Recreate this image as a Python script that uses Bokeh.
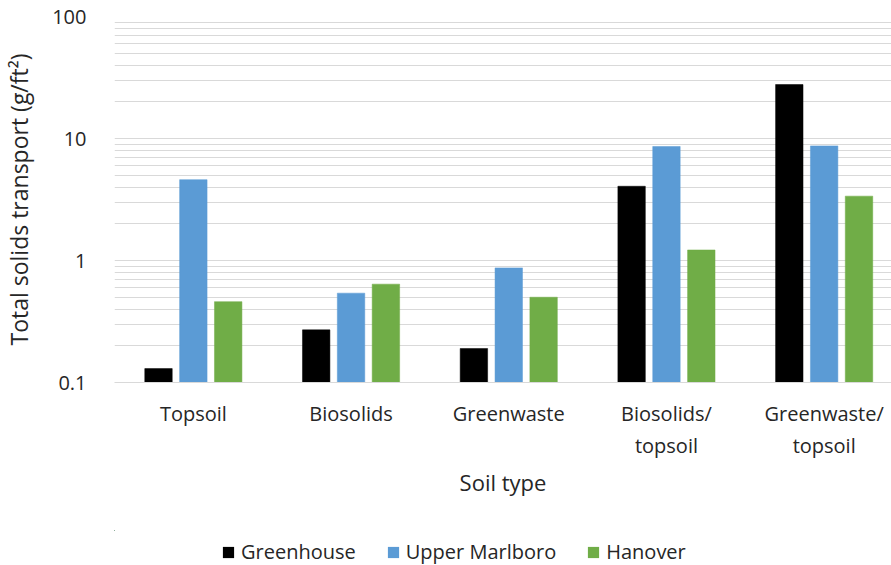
from bokeh.plotting import figure
from bokeh.layouts import column
from bokeh.models import (ColumnDataSource, Range1d, FixedTicker, Legend, LegendItem)
from bokeh.transform import dodge
from bokeh.embed import file_html
from bokeh.resources import INLINE

categories = ["Topsoil", "Biosolids", "Greenwaste", "Biosolids/\ntopsoil", "Greenwaste/\ntopsoil"]
greenhouse = [0.13, 0.27, 0.19, 4.06, 27.7]
upper_marlboro = [4.6, 0.54, 0.87, 8.6, 8.7]
hanover = [0.46, 0.64, 0.50, 1.22, 3.37]
series_names = ["Greenhouse", "Upper Marlboro", "Hanover"]
colors = ["#000000", "#5B9BD5", "#70AD47"]
y_ticks = [0.1, 1, 10, 100]
y_tick_labels = ["0.1", "1", "10", "100"]

FONT = "Open Sans"
TXT = "#262626"

src = ColumnDataSource(dict(
    x=list(range(len(categories))),
    greenhouse=greenhouse,
    upper=upper_marlboro,
    hanover=hanover,
))

p = figure(width=891, height=530, y_axis_type="log",
           x_range=Range1d(-0.5, 4.427), y_range=Range1d(0.1, 100),
           output_backend="svg", toolbar_location=None,
           min_border_left=111, min_border_right=0,
           min_border_top=16, min_border_bottom=148)
p.outline_line_color = None
p.background_fill_color = "white"
p.border_fill_color = "white"

bw = 0.174
off = 0.221
fields = ["greenhouse", "upper", "hanover"]
for i, (f, c) in enumerate(zip(fields, colors)):
    p.vbar(x=dodge("x", (i - 1) * off), top=f, bottom=0.1, width=bw,
           source=src, fill_color=c, line_color=c, line_width=0.5)

# grid
minor = [d * m for d in [0.1, 1, 10] for m in range(2, 10)]
p.yaxis.ticker = FixedTicker(ticks=y_ticks, minor_ticks=minor)
p.ygrid.grid_line_color = "#d9d9d9"
p.ygrid.grid_line_width = 1
p.ygrid.minor_grid_line_color = "#d9d9d9"
p.ygrid.minor_grid_line_width = 1
p.xgrid.grid_line_color = None

p.yaxis.major_label_overrides = {t: l for t, l in zip(y_ticks, y_tick_labels)}
p.yaxis.axis_line_color = None
p.yaxis.major_tick_line_color = None
p.yaxis.minor_tick_line_color = None
p.yaxis.major_label_text_font = FONT
p.yaxis.major_label_text_font_size = "20px"
p.yaxis.major_label_text_color = TXT
p.yaxis.major_label_standoff = 22
p.yaxis.axis_label = "Total solids transport (g/ft²)"
p.yaxis.axis_label_text_font = FONT
p.yaxis.axis_label_text_font_size = "23px"
p.yaxis.axis_label_text_font_style = "normal"
p.yaxis.axis_label_text_color = TXT
p.yaxis.axis_label_standoff = 14

p.xaxis.ticker = FixedTicker(ticks=list(range(len(categories))))
p.xaxis.major_label_overrides = {i: c for i, c in enumerate(categories)}
p.xaxis.axis_line_color = "#d9d9d9"
p.xaxis.major_tick_line_color = None
p.xaxis.minor_tick_line_color = None
p.xaxis.major_label_text_font = FONT
p.xaxis.major_label_text_font_size = "20px"
p.xaxis.major_label_text_color = TXT
p.xaxis.major_label_standoff = 11
p.xaxis.axis_label = "Soil type"
p.xaxis.axis_label_text_font = FONT
p.xaxis.axis_label_text_font_size = "22px"
p.xaxis.axis_label_text_font_style = "normal"
p.xaxis.axis_label_text_color = TXT
p.xaxis.axis_label_standoff = 5

# legend strip (same series, drawn out of view; only the legend shows)
pl = figure(width=891, height=35, x_range=Range1d(100, 101), y_range=Range1d(-1000, -999),
            output_backend="svg", toolbar_location=None,
            min_border_left=0, min_border_right=0, min_border_top=0, min_border_bottom=0)
pl.axis.visible = False
pl.grid.visible = False
pl.outline_line_color = None
pl.background_fill_color = "white"
pl.border_fill_color = "white"
leg_r = [pl.vbar(x="x", top=f, bottom=0.1, width=bw, source=src, fill_color=c, line_color=None)
         for f, c in zip(fields, colors)]
legend = Legend(items=[LegendItem(label=n, renderers=[r]) for n, r in zip(series_names, leg_r)],
                orientation="horizontal", location=(107, 0),
                label_text_font=FONT, label_text_font_size="20px", label_text_color=TXT,
                glyph_width=14, glyph_height=14, spacing=30, label_standoff=6,
                padding=0, margin=0,
                border_line_color=None, background_fill_alpha=0)
pl.add_layout(legend, "center")

layout = column(p, pl, spacing=0)
open("out.html", "w").write(file_html(layout, INLINE))
